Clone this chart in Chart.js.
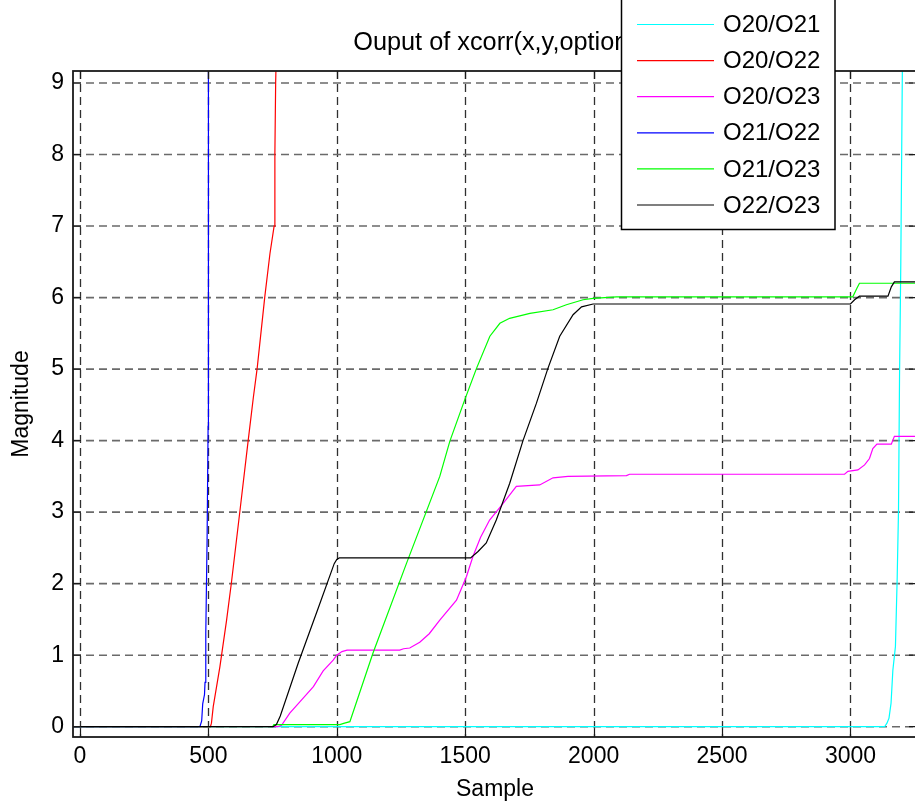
<!DOCTYPE html>
<html>
<head>
<meta charset="utf-8">
<script src="https://cdn.jsdelivr.net/npm/chart.js@4.4.1/dist/chart.umd.min.js"></script>
<style>
  html, body { margin: 0; padding: 0; background: #fff; overflow: hidden; }
  #wrap { width: 930px; height: 808px; }
</style>
</head>
<body>
<div id="wrap"><canvas id="c" width="930" height="808"></canvas></div>
<script>
// Axis setup
const TITLE = 'Ouput of xcorr(x,y,option)';
const X_LABEL = 'Sample';
const Y_LABEL = 'Magnitude';
const X_MIN = -27, X_MAX = 3259;
const Y_MIN = -0.144, Y_MAX = 9.168;
const X_TICKS = [0, 500, 1000, 1500, 2000, 2500, 3000];
const Y_TICKS = [0, 1, 2, 3, 4, 5, 6, 7, 8, 9];

// Series names and colours
const SERIES_NAMES = ['O20/O21', 'O20/O22', 'O20/O23', 'O21/O22', 'O21/O23', 'O22/O23'];
const SERIES_COLORS = ['#00ffff', '#ff0000', '#ff00ff', '#0000ff', '#00ff00', '#000000'];

// O20/O21
const o20o21_x = [-27, 3133, 3142, 3150, 3158, 3165, 3175, 3182, 3187, 3191, 3196, 3202, 3206];
const o20o21_y = [0, 0, 0.05, 0.12, 0.33, 0.79, 1.12, 2.1, 3.03, 4.9, 6.5, 9.2, 12];
// O20/O22
const o20o22_x = [-27, 508, 512, 519, 545, 571, 590, 623, 655, 675, 690, 720, 740, 756, 759, 762, 765, 767];
const o20o22_y = [0, 0, 0.05, 0.28, 0.84, 1.49, 2.02, 3.02, 4.0, 4.6, 5.01, 6.02, 6.62, 7.0, 8.0, 9.0, 9.5, 12];
// O20/O23
const o20o23_x = [-27, 770, 785, 817, 857, 909, 947, 986, 1000, 1020, 1040, 1245, 1260, 1284, 1323, 1360, 1401, 1466, 1505, 1530, 1560, 1595, 1647, 1699, 1790, 1842, 1900, 2128, 2140, 2977, 2990, 3029, 3055, 3074, 3087, 3103, 3159, 3171, 3259];
const o20o23_y = [0, 0, 0.02, 0.19, 0.35, 0.56, 0.78, 0.93, 1.0, 1.05, 1.07, 1.07, 1.09, 1.10, 1.18, 1.3, 1.49, 1.77, 2.10, 2.38, 2.65, 2.89, 3.12, 3.36, 3.38, 3.48, 3.50, 3.51, 3.53, 3.53, 3.57, 3.59, 3.66, 3.75, 3.89, 3.95, 3.95, 4.06, 4.06];
// O21/O22
const o21o22_x = [-27, 467, 474, 478, 485, 487, 490, 495, 499, 500, 500.5];
const o21o22_y = [0, 0, 0.08, 0.32, 0.45, 0.62, 1.3, 2.6, 4.2, 5.0, 12];
// O21/O23
const o21o23_x = [-27, 750, 755, 1012, 1030, 1051, 1141, 1271, 1401, 1440, 1498, 1544, 1596, 1635, 1673, 1752, 1842, 1894, 1959, 1998, 2089, 3009, 3025, 3035, 3259];
const o21o23_y = [0, 0, 0.03, 0.03, 0.05, 0.07, 1.03, 2.28, 3.5, 3.99, 4.57, 5.01, 5.46, 5.64, 5.71, 5.78, 5.83, 5.90, 5.97, 5.99, 6.01, 6.01, 6.13, 6.20, 6.20];
// O22/O23
const o22o23_x = [-27, 752, 765, 780, 850, 930, 990, 1000, 1010, 1521, 1550, 1582, 1621, 1673, 1725, 1777, 1822, 1868, 1920, 1953, 1998, 3000, 3016, 3035, 3146, 3159, 3171, 3259];
const o22o23_y = [0, 0, 0.03, 0.15, 0.89, 1.68, 2.28, 2.34, 2.36, 2.36, 2.45, 2.57, 2.89, 3.4, 4.0, 4.52, 5.01, 5.46, 5.76, 5.87, 5.91, 5.91, 5.97, 6.02, 6.02, 6.15, 6.22, 6.22];

const SERIES_X = [o20o21_x, o20o22_x, o20o23_x, o21o22_x, o21o23_x, o22o23_x];
const SERIES_Y = [o20o21_y, o20o22_y, o20o23_y, o21o22_y, o21o23_y, o22o23_y];

const FONT = '"Liberation Sans", Arial, Helvetica, sans-serif';
const FONT_SIZE = 23;
const TITLE_SIZE = 25.3;

const datasets = SERIES_NAMES.map((name, i) => ({
  label: name,
  data: SERIES_X[i].map((x, k) => ({ x: x, y: SERIES_Y[i][k] })),
  borderColor: SERIES_COLORS[i],
  borderWidth: 1.2,
  pointRadius: 0,
  tension: 0,
  fill: false,
  // later series are drawn on top
  order: SERIES_NAMES.length - i
}));

// Dashed grid, axes box with inward ticks, title and boxed legend
const framePlugin = {
  id: 'frame',
  beforeDatasetsDraw(chart) {
    const { ctx, chartArea: a, scales: { x, y } } = chart;
    ctx.save();
    ctx.setLineDash([8, 5]);
    ctx.strokeStyle = '#303030';
    ctx.lineWidth = 1.3;
    X_TICKS.forEach(v => {
      const p = Math.round(x.getPixelForValue(v)) + 0.5;
      ctx.beginPath(); ctx.moveTo(p, a.top); ctx.lineTo(p, a.bottom); ctx.stroke();
    });
    ctx.strokeStyle = '#6a6a6a';
    ctx.lineWidth = 1.6;
    Y_TICKS.forEach(v => {
      const p = y.getPixelForValue(v);
      ctx.beginPath(); ctx.moveTo(a.left, p); ctx.lineTo(a.right, p); ctx.stroke();
    });
    ctx.restore();
  },
  afterDatasetsDraw(chart) {
    const { ctx, chartArea: a, scales: { x, y } } = chart;
    ctx.save();
    // axes box
    ctx.strokeStyle = '#1a1a1a';
    ctx.lineWidth = 1.8;
    ctx.strokeRect(a.left, a.top, a.right - a.left, a.bottom - a.top);
    // inward tick marks
    const tl = 8;
    ctx.lineWidth = 1.2;
    X_TICKS.forEach(v => {
      const p = Math.round(x.getPixelForValue(v)) + 0.5;
      ctx.beginPath();
      ctx.moveTo(p, a.bottom); ctx.lineTo(p, a.bottom - tl);
      ctx.moveTo(p, a.top); ctx.lineTo(p, a.top + tl);
      ctx.stroke();
    });
    Y_TICKS.forEach(v => {
      const p = y.getPixelForValue(v);
      ctx.beginPath();
      ctx.moveTo(a.left, p); ctx.lineTo(a.left + tl, p);
      ctx.moveTo(a.right, p); ctx.lineTo(a.right - tl, p);
      ctx.stroke();
    });
    // title
    ctx.fillStyle = '#000';
    ctx.font = TITLE_SIZE + 'px ' + FONT;
    ctx.textAlign = 'center';
    ctx.textBaseline = 'alphabetic';
    ctx.fillText(TITLE, (a.left + a.right) / 2, 50);
    // legend
    const bx = 621.5, by = -2, bw = 213.5, bh = 231.5;
    ctx.fillStyle = '#fff';
    ctx.fillRect(bx, by, bw, bh);
    ctx.strokeStyle = '#000';
    ctx.lineWidth = 1.5;
    ctx.strokeRect(bx, by, bw, bh);
    ctx.textAlign = 'left';
    ctx.textBaseline = 'middle';
    ctx.font = '24px ' + FONT;
    SERIES_NAMES.forEach((name, i) => {
      const ly = 24.5 + i * 36.1;
      ctx.strokeStyle = SERIES_COLORS[i];
      ctx.lineWidth = 1.2;
      ctx.beginPath(); ctx.moveTo(637, ly); ctx.lineTo(714, ly); ctx.stroke();
      ctx.fillStyle = '#000';
      ctx.fillText(name, 723, ly + 1);
    });
    ctx.restore();
  }
};

new Chart(document.getElementById('c'), {
  type: 'line',
  data: { datasets: datasets },
  options: {
    responsive: false,
    devicePixelRatio: 1,
    animation: false,
    parsing: true,
    layout: { padding: { top: 71, right: 13, left: 0, bottom: 0 } },
    plugins: {
      legend: { display: false },
      title: { display: false },
      tooltip: { enabled: false }
    },
    scales: {
      x: {
        type: 'linear',
        min: X_MIN,
        max: X_MAX,
        afterBuildTicks: s => { s.ticks = X_TICKS.map(v => ({ value: v })); },
        afterFit: s => { s.height = 71; },
        grid: { display: false, drawTicks: false },
        border: { display: false },
        ticks: {
          color: '#000',
          padding: 6,
          maxRotation: 0,
          autoSkip: false,
          font: { family: FONT, size: FONT_SIZE },
          callback: v => String(v)
        },
        title: {
          display: true,
          text: X_LABEL,
          color: '#000',
          font: { family: FONT, size: FONT_SIZE },
          padding: { top: 0, bottom: 5 }
        }
      },
      y: {
        type: 'linear',
        min: Y_MIN,
        max: Y_MAX,
        afterBuildTicks: s => { s.ticks = Y_TICKS.map(v => ({ value: v })); },
        afterFit: s => { s.width = 73; },
        grid: { display: false, drawTicks: false },
        border: { display: false },
        ticks: {
          color: '#000',
          padding: 9,
          autoSkip: false,
          font: { family: FONT, size: FONT_SIZE },
          callback: v => String(v)
        },
        title: {
          display: true,
          text: Y_LABEL,
          color: '#000',
          font: { family: FONT, size: FONT_SIZE },
          padding: { top: 8, bottom: 0 }
        }
      }
    }
  },
  plugins: [framePlugin]
});
</script>
</body>
</html>
